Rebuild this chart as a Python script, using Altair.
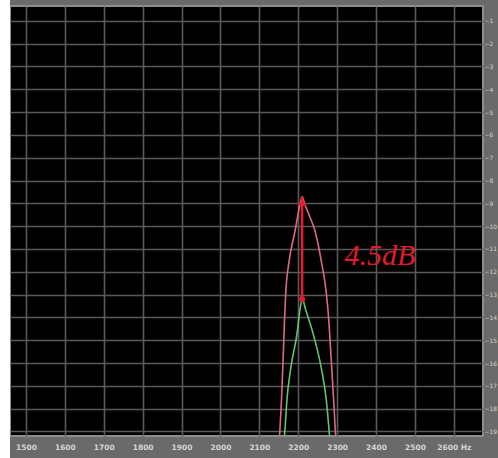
import altair as alt
import pandas as pd

# Frequency response near the 2.2 kHz resonance (dB relative scale)
freq_red = [2150, 2153, 2157, 2161, 2165, 2168, 2176, 2192, 2204, 2210,
            2216, 2230, 2243, 2260, 2272, 2278, 2285, 2291, 2298]
db_red = [-19.8, -18.9, -17.6, -15.9, -14.0, -12.9, -11.6, -10.2, -9.1, -8.7,
          -9.0, -9.6, -10.2, -11.6, -12.9, -14.0, -15.9, -17.6, -19.8]

freq_green = [2160, 2166, 2171, 2181, 2197, 2205, 2211, 2218, 2238, 2259,
              2272, 2279, 2283]
db_green = [-19.8, -18.9, -17.6, -16.2, -14.7, -13.6, -13.2, -13.6, -14.7,
            -16.2, -17.6, -18.9, -19.8]

# Peak-to-peak difference annotation
peak_freq = 2210
peak_top = -8.7
peak_bottom = -13.2
label_text = "4.5dB"
label_freq = 2410
label_db = -11.3

freq_ticks = list(range(1500, 2700, 100))
db_ticks = list(range(-1, -20, -1))

x_scale = alt.Scale(domain=[1459, 2675], nice=False, zero=False)
y_scale = alt.Scale(domain=[-19.2, -0.35], nice=False, zero=False)

x_axis = alt.Axis(values=freq_ticks, tickCount=50, format="d", title=None, grid=True,
                  gridColor="#5a5a5a", gridWidth=1.6, domain=False, ticks=False,
                  labelColor="#d4d4d4", labelFontSize=7.5, labelFont="DejaVu Sans",
                  labelFontWeight="bold", labelPadding=7, labelOverlap=False,
                  labelExpr="datum.value == 2600 ? '2600 Hz' : datum.label")
y_axis = alt.Axis(values=db_ticks, tickCount=50, format="d", orient="right", title=None,
                  grid=True, gridColor="#5a5a5a", gridWidth=1.6, domain=False, ticks=False,
                  labelColor="#d4d4d4", labelFontSize=6, labelFont="DejaVu Sans",
                  labelPadding=1, labelAlign="left", labelOverlap=False)

df_red = pd.DataFrame({"f": freq_red, "db": db_red})
df_green = pd.DataFrame({"f": freq_green, "db": db_green})
df_arrow = pd.DataFrame({"f": [peak_freq, peak_freq], "db": [peak_top, peak_bottom]})
df_head = pd.DataFrame({"f": [peak_freq], "db": [peak_top - 0.25]})
df_tail = pd.DataFrame({"f": [peak_freq], "db": [peak_bottom]})
df_label = pd.DataFrame({"f": [label_freq], "db": [label_db], "t": [label_text]})

X = alt.X("f:Q", scale=x_scale, axis=x_axis)
Y = alt.Y("db:Q", scale=y_scale, axis=y_axis)

red = alt.Chart(df_red).mark_line(color="#dc6a80", strokeWidth=1.6,
                                  interpolate="monotone", clip=True).encode(x=X, y=Y)
green = alt.Chart(df_green).mark_line(color="#62c46c", strokeWidth=1.6,
                                      interpolate="monotone", clip=True).encode(x="f:Q", y="db:Q")
arrow = alt.Chart(df_arrow).mark_line(color="#ea1a30", strokeWidth=2.5).encode(x="f:Q", y="db:Q")
head = alt.Chart(df_head).mark_point(shape="triangle-up", filled=True, size=70,
                                     color="#ea1a30", opacity=1).encode(x="f:Q", y="db:Q")
tail = alt.Chart(df_tail).mark_point(shape="circle", filled=True, size=35,
                                     color="#ea1a30", opacity=1).encode(x="f:Q", y="db:Q")
label = alt.Chart(df_label).mark_text(font="Liberation Serif", fontStyle="italic",
                                      fontSize=30, color="#e41a2c",
                                      align="center", baseline="middle").encode(
    x="f:Q", y="db:Q", text="t:N")

# white margin strip on the left edge of the panel
margin = alt.Chart(pd.DataFrame({"k": [0]})).mark_rect(color="white").encode(
    x=alt.value(-10), x2=alt.value(0), y=alt.value(-6), y2=alt.value(452))

chart = alt.layer(red, green, arrow, head, tail, label, margin).properties(
    width=473, height=430,
    padding={"left": 10, "top": 6, "right": 15, "bottom": 22},
    autosize=alt.AutoSizeParams(type="none"),
    background="#6a6a6a",
).configure_view(
    fill="black", stroke="#8e8e8e", strokeWidth=2
)

chart.save("out.html", embed_options={"renderer": "svg", "actions": False})
